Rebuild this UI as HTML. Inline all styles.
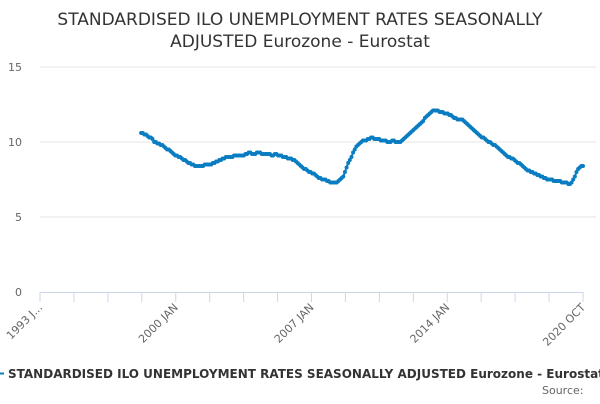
<!DOCTYPE html>
<html><head><meta charset="utf-8"><style>
html,body{margin:0;padding:0;background:#fff;}
body{width:600px;height:400px;overflow:hidden;font-family:"DejaVu Sans","Liberation Sans",sans-serif;}
</style></head><body>
<svg id="chart" width="600" height="400" xmlns="http://www.w3.org/2000/svg" font-family="DejaVu Sans, Liberation Sans, sans-serif">
<text x="300" y="25" text-anchor="middle" font-size="17" fill="#333">STANDARDISED ILO UNEMPLOYMENT RATES SEASONALLY</text>
<text x="300" y="47" text-anchor="middle" font-size="17" fill="#333">ADJUSTED Eurozone - Eurostat</text>
<g id="grid"></g><g id="xaxis"></g><g id="series"></g>
<line x1="-4" x2="4" y1="373.5" y2="373.5" stroke="#0a7cc1" stroke-width="2"/>
<text x="8" y="378" font-size="12" font-weight="bold" fill="#333">STANDARDISED ILO UNEMPLOYMENT RATES SEASONALLY ADJUSTED Eurozone - Eurostat</text>
<text x="542" y="394" font-size="11" fill="#666">Source:</text>
</svg>
<script>
const yTicks=[0,5,10,15];
const xTickLabels=["1993 J...","2000 JAN","2007 JAN","2014 JAN","2020 OCT"];
const startYear=1998, startMonth=3;
const v1998=[10.6,10.6,10.5,10.5,10.4,10.3,10.3,10.2,10.0,10.0];
const v1999=[9.9,9.9,9.8,9.8,9.7,9.6,9.5,9.5,9.4,9.3,9.2,9.1];
const v2000=[9.1,9.0,9.0,8.9,8.8,8.8,8.7,8.6,8.6,8.5,8.5,8.4];
const v2001=[8.4,8.4,8.4,8.4,8.4,8.5,8.5,8.5,8.5,8.5,8.6,8.6];
const v2002=[8.7,8.7,8.8,8.8,8.9,8.9,9.0,9.0,9.0,9.0,9.0,9.1];
const v2003=[9.1,9.1,9.1,9.1,9.1,9.1,9.2,9.2,9.3,9.3,9.2,9.2];
const v2004=[9.2,9.3,9.3,9.3,9.2,9.2,9.2,9.2,9.2,9.2,9.1,9.1];
const v2005=[9.2,9.2,9.1,9.1,9.1,9.0,9.0,9.0,8.9,8.9,8.9,8.8];
const v2006=[8.8,8.7,8.6,8.5,8.4,8.3,8.2,8.2,8.1,8.0,8.0,7.9];
const v2007=[7.9,7.8,7.7,7.6,7.6,7.5,7.5,7.5,7.4,7.4,7.3,7.3];
const v2008=[7.3,7.3,7.3,7.4,7.5,7.6,7.7,8.0,8.3,8.6,8.8,9.0];
const v2009=[9.3,9.5,9.7,9.8,9.9,10.0,10.1,10.1,10.1,10.2,10.2,10.3];
const v2010=[10.3,10.2,10.2,10.2,10.2,10.1,10.1,10.1,10.1,10.0,10.0,10.0];
const v2011=[10.1,10.1,10.0,10.0,10.0,10.0,10.1,10.2,10.3,10.4,10.5,10.6];
const v2012=[10.7,10.8,10.9,11.0,11.1,11.2,11.3,11.4,11.6,11.7,11.8,11.9];
const v2013=[12.0,12.1,12.1,12.1,12.1,12.0,12.0,12.0,11.9,11.9,11.9,11.8];
const v2014=[11.8,11.7,11.6,11.6,11.5,11.5,11.5,11.5,11.4,11.3,11.2,11.1];
const v2015=[11.0,10.9,10.8,10.7,10.6,10.5,10.4,10.3,10.3,10.2,10.1,10.0];
const v2016=[10.0,9.9,9.8,9.8,9.7,9.6,9.5,9.4,9.3,9.2,9.1,9.0];
const v2017=[9.0,8.9,8.9,8.8,8.7,8.6,8.6,8.5,8.4,8.3,8.2,8.1];
const v2018=[8.1,8.0,8.0,7.9,7.9,7.8,7.8,7.7,7.7,7.6,7.6,7.5];
const v2019=[7.5,7.5,7.5,7.4,7.4,7.4,7.4,7.4,7.3,7.3,7.3,7.3];
const v2020=[7.2,7.2,7.3,7.5,7.7,8.0,8.2,8.3,8.4,8.4];
const values=[].concat(v1998,v1999,v2000,v2001,v2002,v2003,v2004,v2005,v2006,v2007,v2008,v2009,v2010,v2011,v2012,v2013,v2014,v2015,v2016,v2017,v2018,v2019,v2020);

const NS="http://www.w3.org/2000/svg";
const X0=40,X1=583,Y0=292,Y15=67;
const totalMonths=(2020-1993)*12+9;
function xs(m){return X0+(X1-X0)*m/totalMonths;}
function ys(v){return Y0-(Y0-Y15)*v/15;}
function mk(tag,attrs,parent){const e=document.createElementNS(NS,tag);for(const k in attrs)e.setAttribute(k,attrs[k]);parent.appendChild(e);return e;}
const grid=document.getElementById('grid');
yTicks.forEach(t=>{
  if(t>0){const l=mk('line',{x1:X0,x2:596,y1:ys(t),y2:ys(t),stroke:'#e6e6e6','stroke-width':1},grid);
  
  }
  const tx=mk('text',{x:22,y:ys(t)+4,'text-anchor':'end','font-size':11,fill:'#666'},grid);
  
  
  tx.textContent=t;
});
const xa=document.getElementById('xaxis');
const al=mk('line',{x1:X0,x2:X1,y1:Y0+0.5,y2:Y0+0.5,stroke:'#ccd6eb','stroke-width':1},xa);


for(let i=0;i<=16;i++){
  const x=X0+(X1-X0)*i/16;
  const t=mk('line',{x1:x,x2:x,y1:Y0,y2:Y0+10,stroke:'#ccd6eb','stroke-width':1},xa);
  
  
  if(i%4===0){
    const lb=mk('text',{x:x+3,y:Y0+16,'text-anchor':'end','font-size':11,fill:'#666',transform:'rotate(-45 '+(x+3)+' '+(Y0+16)+')'},xa);
    
    
    lb.textContent=xTickLabels[i/4];
  }
}
const sg=document.getElementById('series');
const off=(startYear-1993)*12+(startMonth-1);
let d='';
values.forEach((v,i)=>{d+=(i?'L':'M')+xs(off+i).toFixed(2)+' '+ys(v).toFixed(2);});
const p=mk('path',{d:d,fill:'none',stroke:'#0a7cc1','stroke-width':2},sg);


values.forEach((v,i)=>{
  const c=mk('circle',{cx:xs(off+i),cy:ys(v),r:2,fill:'#0a7cc1'},sg);
  
  
});
</script>
</body></html>
